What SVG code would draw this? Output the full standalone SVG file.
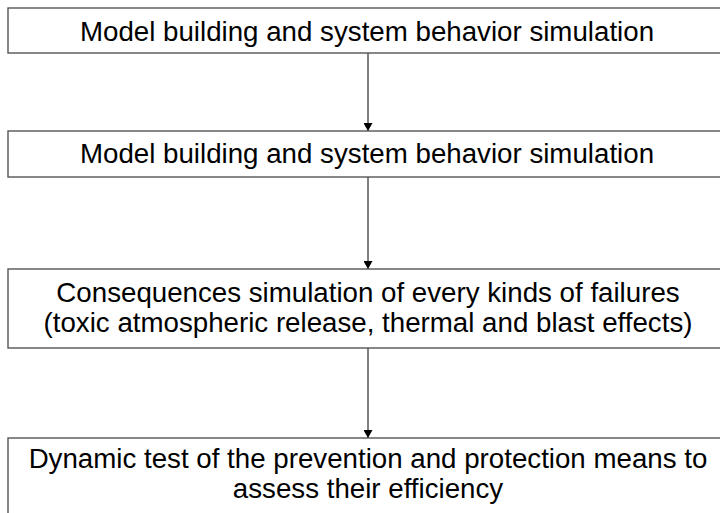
<svg xmlns="http://www.w3.org/2000/svg" width="720" height="513" viewBox="0 0 720 513">
<style>
.box{fill:#fff;stroke:#555;stroke-width:1.4}
.t{font-family:"Liberation Sans",Arial,sans-serif;font-size:27.7px;fill:#000;text-anchor:middle}
.c{stroke:#000;stroke-width:1;fill:none}
</style>
<defs>
<marker id="ah" markerWidth="8" markerHeight="9" refX="8" refY="4.5" orient="auto" markerUnits="userSpaceOnUse">
<path d="M0,0 L8,4.5 L0,9 Z" fill="#000"/>
</marker>
</defs>
<rect width="720" height="513" fill="#fff"/>
<g id="connectors">
<line class="c" x1="368" y1="53" x2="368" y2="131" marker-end="url(#ah)"/>
<line class="c" x1="368" y1="177" x2="368" y2="269" marker-end="url(#ah)"/>
<line class="c" x1="368" y1="348" x2="368" y2="438" marker-end="url(#ah)"/>
</g>
<g id="node1">
<rect class="box" x="8" y="8" width="730" height="45"/>
<text class="t" x="367" y="41">Model building and system behavior simulation</text>
</g>
<g id="node2">
<rect class="box" x="8" y="131" width="730" height="46"/>
<text class="t" x="367" y="163">Model building and system behavior simulation</text>
</g>
<g id="node3">
<rect class="box" x="8" y="269" width="730" height="79"/>
<text class="t" x="368" y="302">Consequences simulation of every kinds of failures</text>
<text class="t" x="368" y="332">(toxic atmospheric release, thermal and blast effects)</text>
</g>
<g id="node4">
<rect class="box" x="8" y="438" width="730" height="100"/>
<text class="t" x="368" y="468">Dynamic test of the prevention and protection means to</text>
<text class="t" x="368" y="498">assess their efficiency</text>
</g>
</svg>
